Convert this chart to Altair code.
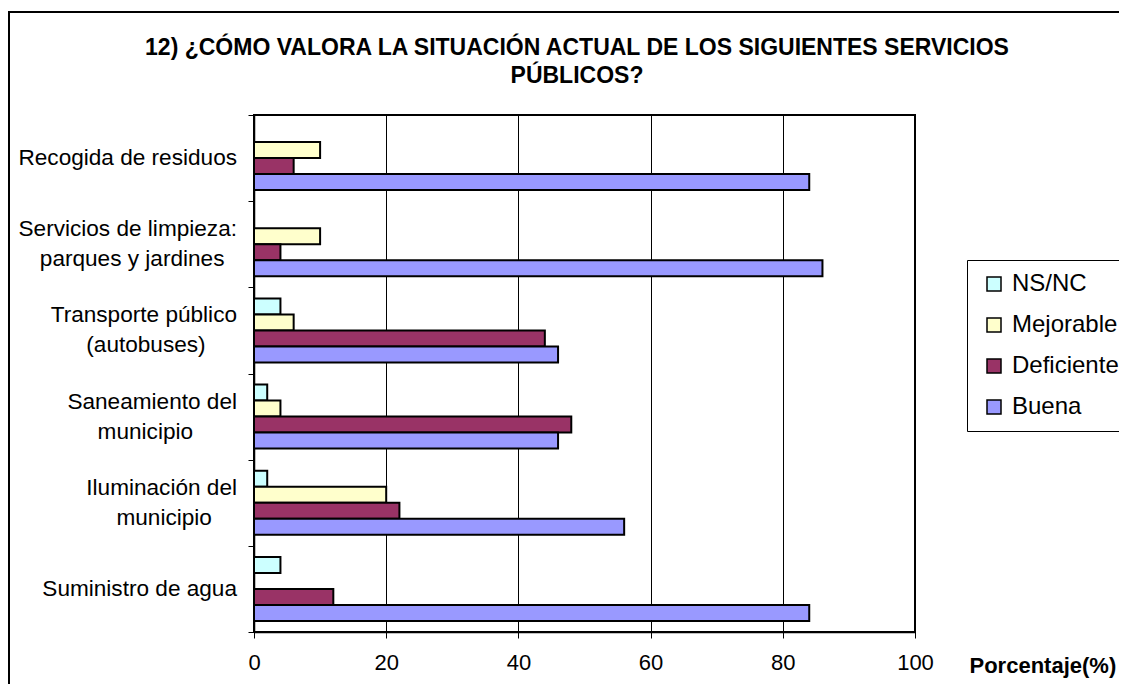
import altair as alt
import pandas as pd

FONT = "Liberation Sans"

categories = [
    "Recogida de residuos",
    "Servicios de limpieza:\nparques y jardines",
    "Transporte público\n(autobuses)",
    "Saneamiento del\nmunicipio",
    "Iluminación del\nmunicipio",
    "Suministro de agua",
]
series = ["NS/NC", "Mejorable", "Deficiente", "Buena"]
ns_nc = [0, 0, 4, 2, 2, 4]
mejorable = [10, 10, 6, 4, 20, 0]
deficiente = [6, 4, 44, 48, 22, 12]
buena = [84, 86, 46, 46, 56, 84]
colors = ["#CCFFFF", "#FFFFCC", "#993366", "#9999FF"]
x_ticks = [0, 20, 40, 60, 80, 100]
title_lines = ["12) ¿CÓMO VALORA LA SITUACIÓN ACTUAL DE LOS SIGUIENTES SERVICIOS", "PÚBLICOS?"]
x_title = "Porcentaje(%)"

# no-break spaces (closed by a zero-width space so they are not trimmed)
# appended to the second line so each line reads centred
second_line_pad = [0, 2, 5, 7, 4, 0]

rows = []
for ci, cat in enumerate(categories):
    for s, vals in zip(series, [ns_nc, mejorable, deficiente, buena]):
        rows.append({"category": cat, "serie": s, "value": vals[ci]})
df = pd.DataFrame(rows)

lab_rows = []
for cat, pad in zip(categories, second_line_pad):
    lines = cat.split("\n")
    if len(lines) > 1:
        lines[1] = lines[1] + "\u00a0" * pad + "\u200b"
    lab_rows.append({"category": cat, "label": "\n".join(lines), "nlines": len(lines)})
lab_df = pd.DataFrame(lab_rows)

y_enc = alt.Y(
    "category:N", sort=categories,
    scale=alt.Scale(paddingInner=0, paddingOuter=0),
    axis=alt.Axis(
        title=None, labels=False, tickSize=6, tickBand="extent",
        tickColor="black", domainColor="black", domainWidth=1.5, grid=False,
    ),
)

bars = alt.Chart(df).transform_filter("datum.value > 0").mark_bar(
    stroke="black", strokeWidth=2
).encode(
    x=alt.X(
        "value:Q",
        scale=alt.Scale(domain=[0, 100], nice=False),
        axis=alt.Axis(
            values=x_ticks, title=x_title, grid=True, gridColor="black", gridWidth=1,
            labelFontSize=22, labelPadding=14, labelFlush=False, tickSize=6, tickColor="black",
            domainColor="black", domainWidth=1.5,
            titleFontSize=22, titleFontWeight="bold", titleX=715, titleY=33,
            titleAlign="left", titleBaseline="middle",
        ),
    ),
    y=y_enc,
    yOffset=alt.YOffset("serie:N", sort=series, scale=alt.Scale(paddingInner=0, paddingOuter=0.69)),
    color=alt.Color(
        "serie:N", sort=series,
        scale=alt.Scale(domain=series, range=colors),
        legend=alt.Legend(
            title=None, orient="none", legendX=713, legendY=145,
            strokeColor="black", padding=12, rowPadding=17,
            symbolType="square", symbolSize=196, symbolStrokeColor="black",
            symbolStrokeWidth=1.5, symbolOffset=3, labelOffset=6,
            labelFontSize=24, labelFont=FONT, labelColor="black",
        ),
    ),
)

labels_one = alt.Chart(lab_df).transform_filter("datum.nlines == 1").mark_text(
    align="right", baseline="middle", font=FONT, fontSize=22.6, color="black"
).encode(y=y_enc, text="label:N", x=alt.value(-17))

labels_two = alt.Chart(lab_df).transform_filter("datum.nlines > 1").mark_text(
    align="right", baseline="line-bottom", font=FONT, fontSize=22.6, lineHeight=30,
    lineBreak="\n", color="black"
).encode(y=y_enc, text="label:N", x=alt.value(-17))

frame = alt.Chart(alt.Data(values=[{}])).mark_rect(
    fillOpacity=0, stroke="black", strokeWidth=2
).encode(
    x=alt.value(-245), x2=alt.value(1000), y=alt.value(-103), y2=alt.value(700)
)

title = alt.Chart(alt.Data(values=[{}])).mark_text(
    text=title_lines, font=FONT, fontSize=23, fontWeight="bold", lineHeight=28,
    align="center", baseline="middle", color="black",
).encode(x=alt.value(323), y=alt.value(-67))

chart = alt.layer(frame, bars, labels_one, labels_two, title).properties(
    width=661, height=517,
    autosize=alt.AutoSizeParams(type="none"),
    padding={"left": 246, "top": 107, "right": 204, "bottom": 52},
    background="white",
).configure_view(
    stroke="black", strokeWidth=2
).configure_axis(
    labelFont=FONT, titleFont=FONT, labelColor="black", titleColor="black"
)

chart.save("out.html", embed_options={"renderer": "svg", "actions": False})
